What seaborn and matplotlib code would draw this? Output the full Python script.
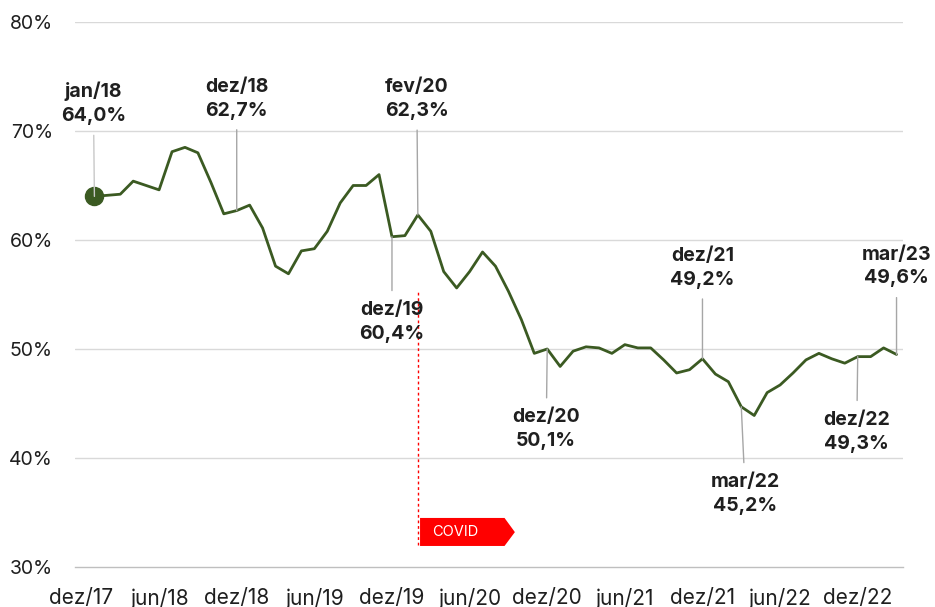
import numpy as np
import pandas as pd
import matplotlib
matplotlib.use("Agg")
import matplotlib.pyplot as plt
import seaborn as sns

# ---- data -------------------------------------------------------------
months = [f"{m}/{y}" for y in ["18", "19", "20", "21", "22"]
          for m in ["jan", "fev", "mar", "abr", "mai", "jun",
                    "jul", "ago", "set", "out", "nov", "dez"]] + ["jan/23", "fev/23", "mar/23"]
values = [64.0, 64.1, 64.2, 65.4, 65.0, 64.6, 68.1, 68.5, 68.0, 65.3, 62.4, 62.7,
          63.2, 61.1, 57.6, 56.9, 59.0, 59.2, 60.8, 63.4, 65.0, 65.0, 66.0, 60.3,
          60.4, 62.3, 60.8, 57.1, 55.6, 57.1, 58.9, 57.6, 55.3, 52.7, 49.6, 50.0,
          48.4, 49.8, 50.2, 50.1, 49.6, 50.4, 50.1, 50.1, 49.0, 47.8, 48.1, 49.1,
          47.7, 47.0, 44.7, 43.9, 46.0, 46.7, 47.8, 49.0, 49.6, 49.1, 48.7, 49.3,
          49.3, 50.1, 49.5]
tick_labels = ["dez/17", "jun/18", "dez/18", "jun/19", "dez/19", "jun/20",
               "dez/20", "jun/21", "dez/21", "jun/22", "dez/22"]
y_ticks = [30, 40, 50, 60, 70, 80]
annot_months = ["jan/18", "dez/18", "fev/20", "dez/19", "dez/20",
                "dez/21", "mar/22", "dez/22", "mar/23"]
annot_texts = ["jan/18\n64,0%", "dez/18\n62,7%", "fev/20\n62,3%", "dez/19\n60,4%",
               "dez/20\n50,1%", "dez/21\n49,2%", "mar/22\n45,2%", "dez/22\n49,3%",
               "mar/23\n49,6%"]
covid_month = "fev/20"
covid_text = "COVID"

# ---- style --------------------------------------------------------------
LINE = "#3b5a22"
GRID = "#d9d9d9"
LEAD = "#a6a6a6"
TXT = "#1f1f1f"
# label offsets in pixels (dx, dy) relative to the data point
annot_offsets = [(-1, 93), (0, 112), (-1, 116), (0, -85), (-1, -80),
                 (0, 91), (4, -87), (-1, -75), (0, 88)]

sns.set_theme(style="white")
plt.rcParams["font.family"] = ["Inter", "DejaVu Sans"]

fig = plt.figure(figsize=(9.35, 6.07), dpi=100)
ax = fig.add_axes([75 / 935, 40 / 607, 828 / 935, 545 / 607])

df = pd.DataFrame({"x": np.arange(1, len(values) + 1), "v": values, "m": months})
sns.lineplot(data=df, x="x", y="v", color=LINE, lw=2.0, ax=ax, zorder=4)
ax.lines[-1].set_solid_joinstyle("round")
ax.lines[-1].set_solid_capstyle("round")

# first point marker
ax.plot(df.x.iloc[0], df.v.iloc[0], "o", ms=13, color=LINE, zorder=5)

ax.set_xlim(-0.5, len(values) + 0.5)
ax.set_ylim(y_ticks[0], y_ticks[-1])

# y axis
ax.set_yticks(y_ticks)
ax.set_yticklabels([f"{t}%" for t in y_ticks])
ax.tick_params(axis="y", length=0, pad=16, labelsize=14, labelcolor=TXT)
for t in y_ticks[1:]:
    ax.axhline(t, color=GRID, lw=1, zorder=1)

# x axis: tick marks at boundaries, labels centred on months
cats = np.arange(0, len(values), 6)
ax.set_xticks(cats - 0.5)
ax.set_xticklabels([])
ax.set_xticks(cats, minor=True)
ax.set_xticklabels(tick_labels, minor=True)
ax.tick_params(axis="x", which="major", direction="inout", length=10, width=1,
               color="#bfbfbf")
ax.tick_params(axis="x", which="minor", length=0, pad=15, labelsize=15, labelcolor=TXT)

for s in ["top", "right", "left"]:
    ax.spines[s].set_visible(False)
ax.spines["bottom"].set_color("#bfbfbf")
ax.spines["bottom"].set_linewidth(1)
ax.set_xlabel("")
ax.set_ylabel("")

# annotations
for mon, txt, (dx, dy) in zip(annot_months, annot_texts, annot_offsets):
    row = df[df.m == mon].iloc[0]
    ax.annotate(txt, xy=(row.x, row.v), xytext=(dx, dy), textcoords="offset pixels",
                ha="center", va="center", multialignment="center",
                fontsize=14, fontweight="bold", color=TXT, linespacing=1.42,
                arrowprops=dict(arrowstyle="-", color=("#c8c8c8" if mon == "jan/18" else LEAD),
                                lw=1, shrinkA=5, shrinkB=0),
                zorder=6)

# covid marker
cx = df[df.m == covid_month].x.iloc[0]
ax.vlines(cx, 32.0, 55.4, colors="#ff0000", lw=1, linestyles=(0, (2, 2)), zorder=3)
poly_x = [cx + 0.17, cx + 6.7, cx + 7.5, cx + 6.7, cx + 0.17]
poly_y = [34.5, 34.5, 33.2, 31.93, 31.93]
ax.fill(poly_x, poly_y, color="#ff0000", zorder=3, lw=0, clip_on=False)
ax.text(cx + 2.9, 33.2, covid_text, ha="center", va="center", color="white",
        fontsize=10.5, zorder=4)

fig.savefig("out.png", dpi=100)
